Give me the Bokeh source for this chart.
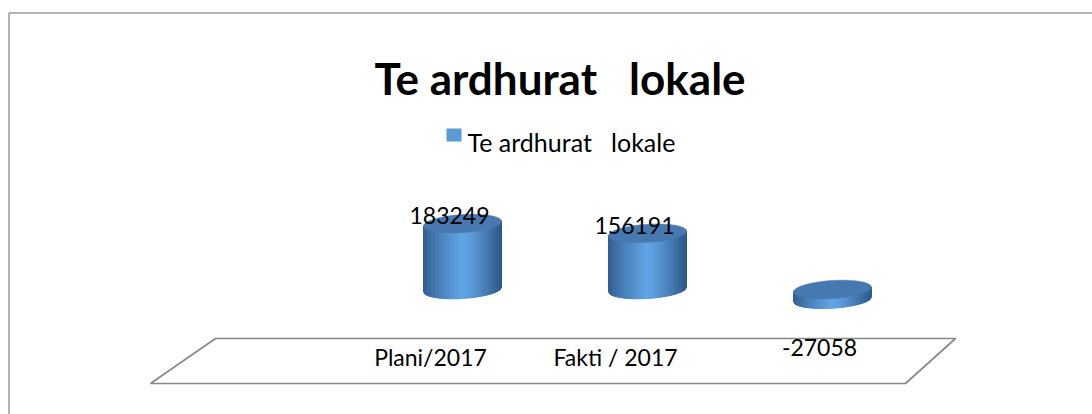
import numpy as np
from bokeh.plotting import figure
from bokeh.models import Range1d, ColumnDataSource
from bokeh.core.properties import value
from bokeh.embed import file_html
from bokeh.resources import INLINE

# ---------------- data ----------------
categories = ["Plani/2017", "Fakti / 2017", ""]
values = [183249, 156191, -27058]
series_name = "Te ardhurat   lokale"
chart_title = "Te ardhurat   lokale"


def keep_spaces(s):
    # SVG collapses runs of spaces; keep them visible with no-break spaces
    out = []
    prev_space = False
    for ch in s:
        if ch == " " and prev_space:
            out.append("\u00a0")
        else:
            out.append(ch)
        prev_space = ch in (" ", "\u00a0")
    return "".join(out)


# ---------------- layout ----------------
W, H = 1092, 414
FONT = "Lato"
x0_px, step_px = 462.0, 185.0      # canvas px of first category, px per category
zero_px, upp = 289.0, 2780.0       # canvas px (from top) of value 0, value units per px

X0 = -x0_px / step_px
X1 = (W - x0_px) / step_px
Y1 = zero_px * upp
Y0 = -(H - zero_px) * upp

p = figure(width=W, height=H, output_backend="svg", toolbar_location=None,
           x_range=Range1d(X0, X1), y_range=Range1d(Y0, Y1),
           min_border=0, outline_line_color=None,
           background_fill_color="white", border_fill_color="white")
p.axis.visible = False
p.grid.visible = False
p.extra_x_ranges = {"px": Range1d(0, W)}
p.extra_y_ranges = {"px": Range1d(H, 0)}

# chart border (top and left visible)
p.line(x=[8.5, 8.5, W], y=[H, 12.5, 12.5], x_range_name="px", y_range_name="px",
       line_color="#9a9a9a", line_width=1.5)

# floor
p.patch(x=[215, 955, 905, 150], y=[338, 338, 383, 383], x_range_name="px", y_range_name="px",
        fill_color="white", line_color="#888888", line_width=1.7)

# ---------------- cylinders ----------------
a = 39.0 / step_px            # half width in x units
b = 9.0 * upp                 # half ellipse height in value units
shear = 0.06 * step_px * upp  # value units per x unit (tilt)

left_c = np.array([0x30, 0x5c, 0x8e]) / 255
mid_c = np.array([0x62, 0xa5, 0xe6]) / 255
right_c = np.array([0x2c, 0x57, 0x88]) / 255


def shade(t):
    if t < 0.5:
        u = (t / 0.5) ** 0.8
        c = left_c + (mid_c - left_c) * u
    else:
        u = ((t - 0.5) / 0.5) ** 1.3
        c = mid_c + (right_c - mid_c) * u
    c = np.clip(c * 255, 0, 255).astype(int)
    return "#%02x%02x%02x" % tuple(c)


N = 60
xs_all, ys_all, cols = [], [], []
tops_x, tops_y = [], []
for i, v in enumerate(values):
    ytop = max(v, 0)
    ybot = min(v, 0)
    edges = np.linspace(-a, a, N + 1)

    def bot(dx):
        return ybot - b * np.sqrt(max(0.0, 1 - (dx / a) ** 2)) + shear * dx

    def top(dx):
        return ytop + shear * dx

    for k in range(N):
        l, r = edges[k], edges[k + 1]
        xs_all.append([i + l, i + r, i + r, i + l])
        ys_all.append([bot(l), bot(r), top(r), top(l)])
        cols.append(shade((k + 0.5) / N))
    t = np.linspace(0, 2 * np.pi, 120)
    tops_x.append(list(i + a * np.cos(t)))
    tops_y.append(list(ytop + b * np.sin(t) + shear * a * np.cos(t)))

body = ColumnDataSource(dict(xs=xs_all, ys=ys_all, c=cols))
p.patches("xs", "ys", source=body, fill_color="c", line_color="c", line_width=1)
p.patches(tops_x, tops_y, fill_color="#4778b0", line_color="#4778b0", line_width=0.5)

# ---------------- value labels ----------------
lab_dx = -13.0 / step_px
lx, ly, lt = [], [], []
for i, v in enumerate(values):
    lx.append(i + lab_dx)
    if v >= 0:
        ly.append(v + 8 * upp)
    else:
        ly.append(v - 48 * upp)
    lt.append(str(v))
p.text(x=lx, y=ly, text=lt, text_font=value(FONT), text_font_size="23px",
       text_align="center", text_baseline="alphabetic", text_color="#000000")

# ---------------- category labels ----------------
cat_dx = -32.0 / step_px
cx = [i + cat_dx for i in range(len(categories))]
cy = [-67 * upp] * len(categories)
p.text(x=cx, y=cy, text=categories, text_font=value(FONT), text_font_size="23px",
       text_align="center", text_baseline="alphabetic", text_color="#000000")

# ---------------- title ----------------
p.text(x=[559.5], y=[77], text=[keep_spaces(chart_title)], x_range_name="px", y_range_name="px",
       text_font=value(FONT), text_font_size="44px", text_font_style="bold",
       text_align="center", text_baseline="alphabetic", text_color="#000000")

# ---------------- legend ----------------
p.quad(left=[446], right=[461], top=[128], bottom=[141], x_range_name="px", y_range_name="px",
       fill_color="#5b9bd5", line_color=None)
p.text(x=[467], y=[141], text=[keep_spaces(series_name)], x_range_name="px", y_range_name="px",
       text_font=value(FONT), text_font_size="25px",
       text_align="left", text_baseline="alphabetic", text_color="#000000")

open("out.html", "w").write(file_html(p, INLINE))
